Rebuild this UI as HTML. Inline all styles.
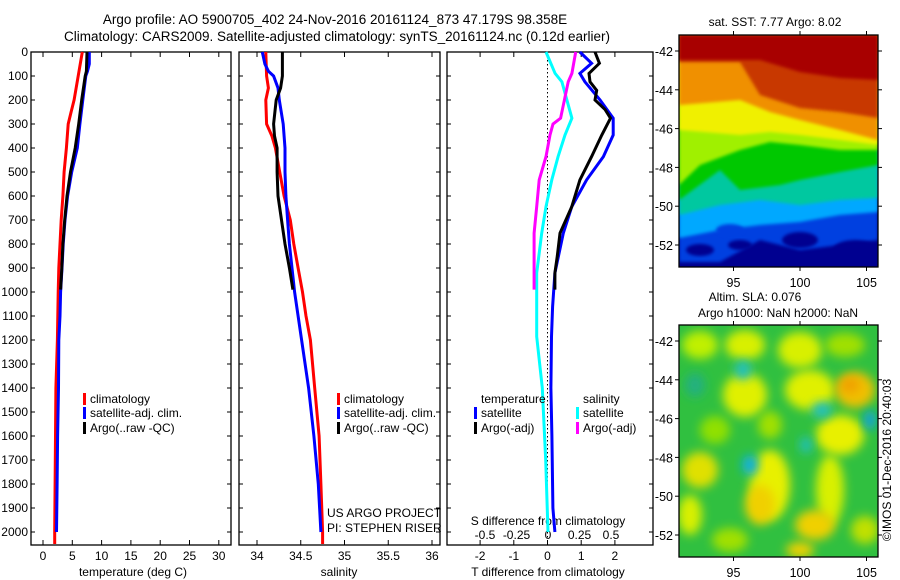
<!DOCTYPE html>
<html><head><meta charset="utf-8"><style>
html,body{margin:0;padding:0;background:#fff;}
svg{display:block;font-family:"Liberation Sans",sans-serif;}
</style></head><body>
<svg id="chart" width="900" height="580" viewBox="0 0 900 580" xmlns="http://www.w3.org/2000/svg">
<defs>
<filter id="blur4" x="-50%" y="-50%" width="200%" height="200%"><feGaussianBlur stdDeviation="5"/></filter>
<filter id="blur2" x="-20%" y="-20%" width="140%" height="140%"><feGaussianBlur stdDeviation="1.5"/></filter>
<clipPath id="clipTop"><rect x="679" y="35" width="199" height="232"/></clipPath>
<clipPath id="clipBot"><rect x="679" y="325" width="199" height="232"/></clipPath>
</defs>
<text x="335" y="24" font-size="13.5" text-anchor="middle">Argo profile: AO 5900705_402 24-Nov-2016 20161124_873 47.179S 98.358E</text>
<text x="337" y="41" font-size="13.5" text-anchor="middle">Climatology: CARS2009. Satellite-adjusted climatology: synTS_20161124.nc (0.12d earlier)</text>
<g id="panels"></g>
<g id="maps"></g>
</svg>
<script>
// ---- data ----
const depthTicks = [0,100,200,300,400,500,600,700,800,900,1000,1100,1200,1300,1400,1500,1600,1700,1800,1900,2000];
const tempTicks = [0,5,10,15,20,25,30];
const salTicks = [34,34.5,35,35.5,36];
const salTickLabels = ["34","34.5","35","35.5","36"];
const tdiffTicks = [-2,-1,0,1,2];
const sdiffTicks = [-0.5,-0.25,0,0.25,0.5];
const sdiffTickLabels = ["-0.5","-0.25","0","0.25","0.5"];

const tClimDepth = [0,100,200,250,300,400,500,600,700,800,900,1000,1200,1400,1700,2000,2050];
const tClimVal   = [6.7,6.0,5.3,4.8,4.3,4.0,3.6,3.4,3.1,2.9,2.7,2.6,2.45,2.2,2.1,2.0,2.0];
const tSatDepth  = [0,50,80,100,200,300,400,500,600,700,800,900,1000,1100,1200,1400,1600,1800,2000];
const tSatVal    = [7.9,7.9,7.6,7.3,6.8,6.3,5.85,4.9,4.2,3.75,3.45,3.25,3.0,2.9,2.7,2.65,2.5,2.4,2.3];
const tArgoDepth = [0,80,100,200,300,400,500,600,700,800,900,990];
const tArgoVal   = [7.5,7.4,7.2,6.6,6.1,5.5,4.7,4.1,3.7,3.4,3.2,3.0];

const sClimDepth = [0,100,150,200,300,350,400,500,600,700,800,900,1000,1100,1200,1400,1600,1800,2000,2050];
const sClimVal   = [34.10,34.11,34.13,34.10,34.11,34.17,34.21,34.26,34.31,34.38,34.42,34.47,34.52,34.56,34.61,34.66,34.71,34.73,34.75,34.75];
const sSatDepth  = [0,50,80,100,150,200,300,400,500,600,700,800,900,1000,1100,1200,1400,1600,1800,2000];
const sSatVal    = [34.06,34.09,34.13,34.19,34.24,34.255,34.30,34.32,34.32,34.33,34.35,34.37,34.40,34.43,34.47,34.51,34.59,34.65,34.70,34.73];
const sArgoDepth = [0,100,150,200,300,350,400,500,600,700,800,900,990];
const sArgoVal   = [34.29,34.29,34.27,34.22,34.19,34.20,34.23,34.23,34.24,34.28,34.32,34.37,34.41];

const dtSatDepth = [0,47,89,124,200,276,346,436,533,644,755,921,1061,1186,1400,1600,1900,2000];
const dtSatVal   = [0.96,1.31,0.96,1.11,1.56,1.95,1.95,1.66,1.16,0.72,0.47,0.22,0.15,0.12,0.10,0.13,0.16,0.22];
const dtArgoDepth = [0,47,89,124,160,200,240,276,346,436,533,644,755,850,921,990];
const dtArgoVal   = [1.41,1.54,1.23,1.26,1.46,1.41,1.71,1.87,1.61,1.31,0.96,0.72,0.37,0.29,0.22,0.22];
const dsSatDepth = [0,89,124,200,276,346,436,533,644,755,921,1186,1400,1700,2000];
const dsSatVal   = [-0.016,0.056,0.11,0.15,0.19,0.135,0.08,0.03,-0.016,-0.05,-0.09,-0.09,-0.045,-0.018,0];
const dsArgoDepth = [0,89,124,200,276,300,346,436,533,644,755,990];
const dsArgoVal   = [0.22,0.19,0.16,0.13,0.10,0.04,0.016,-0.016,-0.07,-0.09,-0.11,-0.11];

const latTicks = [-42,-44,-46,-48,-50,-52];
const lonTicks = [95,100,105];

// ---- scales ----
const NS="http://www.w3.org/2000/svg";
const yD = d => 52 + 0.24*d;
const xT = t => 43 + 5.86*t;
const xS = s => 257 + 87.5*(s-34);
const xDT = v => 547.5 + 33.7*v;
const xDS = v => 548 + 126*v;
const PT=52, PB=545;
const g = document.getElementById('panels');
function mk(tag, attrs, parent){const e=document.createElementNS(NS,tag);for(const k in attrs)e.setAttribute(k,attrs[k]);(parent||g).appendChild(e);return e;}
function txt(x,y,s,anchor,size,name,parent){const e=mk('text',{x:x,y:y,'font-size':size||12,'text-anchor':anchor||'middle'},parent);e.textContent=s;


return e;}
function line(depths, vals, xf, color, name, w){
  const pts = depths.map((d,i)=>xf(vals[i]).toFixed(1)+','+yD(d).toFixed(1)).join(' ');
  const p = mk('polyline',{points:pts,fill:'none',stroke:color,'stroke-width':w||3,'stroke-linejoin':'miter'});
  
  
}
function frame(x0,x1,name){
  const r=mk('rect',{x:x0,y:PT,width:x1-x0,height:PB-PT,fill:'none',stroke:'#000','stroke-width':1.3});
  
  
  depthTicks.forEach(d=>{mk('line',{x1:x0,x2:x0+4,y1:yD(d),y2:yD(d),stroke:'#000'});mk('line',{x1:x1-4,x2:x1,y1:yD(d),y2:yD(d),stroke:'#000'});});
}
function xticks(vals,xf,labels,y){
  vals.forEach((v,i)=>{const x=xf(v);mk('line',{x1:x,x2:x,y1:PT,y2:PT+5,stroke:'#000'});mk('line',{x1:x,x2:x,y1:PB-5,y2:PB,stroke:'#000'});
    txt(x,y,labels?labels[i]:String(v),'middle',12,'x-tick-label');});
}
// panel 1
frame(31,231,'temperature-panel');
depthTicks.forEach(d=>txt(28,yD(d)+4,String(d),'end',12,'depth-tick-label'));
xticks(tempTicks,xT,null,560);
txt(133,576,'temperature (deg C)','middle',12,'temperature-axis-title');
line(tClimDepth,tClimVal,xT,'#ff0000','temp-climatology-line');
line(tSatDepth,tSatVal,xT,'#0000ff','temp-satellite-line');
line(tArgoDepth,tArgoVal,xT,'#000000','temp-argo-line');
// panel 2
frame(239,440,'salinity-panel');
xticks(salTicks,xS,salTickLabels,560);
txt(339,576,'salinity','middle',12,'salinity-axis-title');
line(sClimDepth,sClimVal,xS,'#ff0000','sal-climatology-line');
line(sSatDepth,sSatVal,xS,'#0000ff','sal-satellite-line');
line(sArgoDepth,sArgoVal,xS,'#000000','sal-argo-line');
// panel 3
frame(447,653,'difference-panel');
const zl=mk('line',{x1:xDT(0),x2:xDT(0),y1:PT,y2:PB,stroke:'#000','stroke-dasharray':'1.5,2.5'});

tdiffTicks.forEach(v=>{const x=xDT(v);mk('line',{x1:x,x2:x,y1:PT,y2:PT+5,stroke:'#000'});mk('line',{x1:x,x2:x,y1:PB-5,y2:PB,stroke:'#000'});txt(x,560,String(v),'middle',12,'t-diff-tick-label');});
sdiffTicks.forEach((v,i)=>txt(xDS(v),539,sdiffTickLabels[i],'middle',12,'s-diff-tick-label'));
txt(548,525,'S difference from climatology','middle',12,'s-diff-axis-title');
txt(548,576,'T difference from climatology','middle',12,'t-diff-axis-title');
line(dsSatDepth,dsSatVal,xDS,'#00ffff','sdiff-satellite-line');
line(dsArgoDepth,dsArgoVal,xDS,'#ff00ff','sdiff-argo-line');
line(dtSatDepth,dtSatVal,xDT,'#0000ff','tdiff-satellite-line');
line(dtArgoDepth,dtArgoVal,xDT,'#000000','tdiff-argo-line');
// legends
function legend(x,y,color,label,name){const r=mk('rect',{x:x,y:y-6,width:3,height:12,fill:color});txt(x+7,y+4,label,'start',12,name);}
[[399,'#ff0000','climatology'],[413,'#0000ff','satellite-adj. clim.'],[428,'#000000','Argo(..raw -QC)']].forEach(r=>{legend(83,r[0],r[1],r[2],'temp-legend-entry');legend(337,r[0],r[1],r[2],'sal-legend-entry');});
txt(481,403,'temperature','start',12,'legend-temperature-header');
txt(583,403,'salinity','start',12,'legend-salinity-header');
legend(474,413,'#0000ff','satellite','tdiff-legend-satellite');
legend(474,428,'#000000','Argo(-adj)','tdiff-legend-argo');
legend(576,413,'#00ffff','satellite','sdiff-legend-satellite');
legend(576,428,'#ff00ff','Argo(-adj)','sdiff-legend-argo');
txt(327,517,'US ARGO PROJECT','start',12,'project-credit');
txt(327,532,'PI: STEPHEN RISER','start',12,'pi-credit');

// ---- maps ----
const m = document.getElementById('maps');
const xLon = l => 800 + 13.3*(l-100);
function mapAxes(top, name, lat0){
  const yL = la => lat0 + 19.4*(-42-la);
  const r=mk('rect',{x:679,y:top,width:199,height:232,fill:'none',stroke:'#000','stroke-width':1.3},m);
  
  latTicks.forEach(la=>{const y=yL(la);mk('line',{x1:675,x2:679,y1:y,y2:y,stroke:'#000'},m);mk('line',{x1:878,x2:882,y1:y,y2:y,stroke:'#000'},m);txt(673,y+5,String(la),'end',12.5,'lat-tick-label',m);});
  lonTicks.forEach(lo=>{const x=xLon(lo);mk('line',{x1:x,x2:x,y1:top-4,y2:top,stroke:'#000'},m);mk('line',{x1:x,x2:x,y1:top+232,y2:top+236,stroke:'#000'},m);txt(x,top+252,String(lo),'middle',12.5,'lon-tick-label',m);});
}
// top SST map
const gt=mk('g',{'clip-path':'url(#clipTop)'},m);

mk('rect',{x:679,y:35,width:199,height:232,fill:'#000090'},gt);
const bands=[
 ['#0040e0','679,35 679,262 720,262 760,240 800,250 840,245 878,240 878,35'],
 ['#00a8ff','679,35 679,238 720,230 760,225 800,222 840,215 878,212 878,35'],
 ['#00c8a0','679,35 679,215 720,205 760,200 800,205 840,200 878,198 878,35'],
 ['#00c800','679,35 679,200 720,170 740,190 780,185 800,180 840,172 878,165 878,35'],
 ['#a0f000','679,35 679,185 700,165 740,150 770,142 800,145 840,150 878,150 878,35'],
 ['#f0f000','679,35 679,130 740,135 770,132 800,135 840,140 878,145 878,35'],
 ['#f09000','679,35 679,105 740,100 770,112 800,120 840,130 878,140 878,35'],
 ['#c83800','679,35 679,62 740,62 760,95 800,108 840,112 878,118 878,35'],
 ['#a80000','679,35 679,60 760,60 800,72 840,78 878,80 878,35']];
bands.forEach(b=>mk('polygon',{points:b[1],fill:b[0],filter:'url(#blur2)'},gt));
[[730,230,14,6,'#0040e0'],[800,240,18,8,'#000090'],[740,245,12,5,'#000090'],[855,250,22,10,'#000090'],[700,250,14,6,'#000090']].forEach(e=>mk('ellipse',{cx:e[0],cy:e[1],rx:e[2],ry:e[3],fill:e[4],filter:'url(#blur2)'},gt));
mapAxes(35,'sst-map-frame',51);
txt(775,26,'sat. SST: 7.77 Argo: 8.02','middle',12,'sst-map-title',m);
// bottom SLA map
const gb=mk('g',{'clip-path':'url(#clipBot)'},m);

mk('rect',{x:679,y:325,width:199,height:232,fill:'#30c040'},gb);
const blobs=[[700,345,18,14,'#c0f000'],[745,345,20,15,'#d8f000'],[800,350,22,18,'#d8f000'],[845,345,20,12,'#a0e000'],
[745,395,22,22,'#e0f000'],[810,390,25,20,'#e0f000'],[855,390,20,18,'#f0c000'],[850,385,10,8,'#f0a000'],
[715,430,15,14,'#90e000'],[770,425,12,14,'#a0e000'],[840,435,24,20,'#e8f000'],
[700,470,18,18,'#e0e000'],[770,485,20,35,'#e8f000'],[830,490,14,35,'#d8f000'],[760,505,15,20,'#f0d000'],
[690,515,12,20,'#d8f000'],[815,525,20,15,'#f0d000'],[865,530,14,14,'#c0e000'],[800,550,14,8,'#f0d000'],[730,540,18,12,'#a0e000']];
blobs.forEach(b=>mk('ellipse',{cx:b[0],cy:b[1],rx:b[2],ry:b[3],fill:b[4],filter:'url(#blur4)'},gb));
[[743,370,8,10,'#20c0c0'],[822,410,10,8,'#20c0c0'],[870,420,6,10,'#10a0e0'],[750,465,8,10,'#10b0e0'],[806,445,6,8,'#20c0c0'],[695,385,10,12,'#20b080']].forEach(b=>mk('ellipse',{cx:b[0],cy:b[1],rx:b[2],ry:b[3],fill:b[4],filter:'url(#blur4)'},gb));
mapAxes(325,'sla-map-frame',341);
txt(755,301,'Altim. SLA: 0.076','middle',12,'sla-map-title',m);
txt(778,317,'Argo h1000: NaN h2000: NaN','middle',12,'sla-map-subtitle',m);
const cr=txt(0,0,'©IMOS 01-Dec-2016 20:40:03','middle',12,'imos-credit',m);
cr.setAttribute('transform','translate(891,460) rotate(-90)');
</script>
</body></html>
